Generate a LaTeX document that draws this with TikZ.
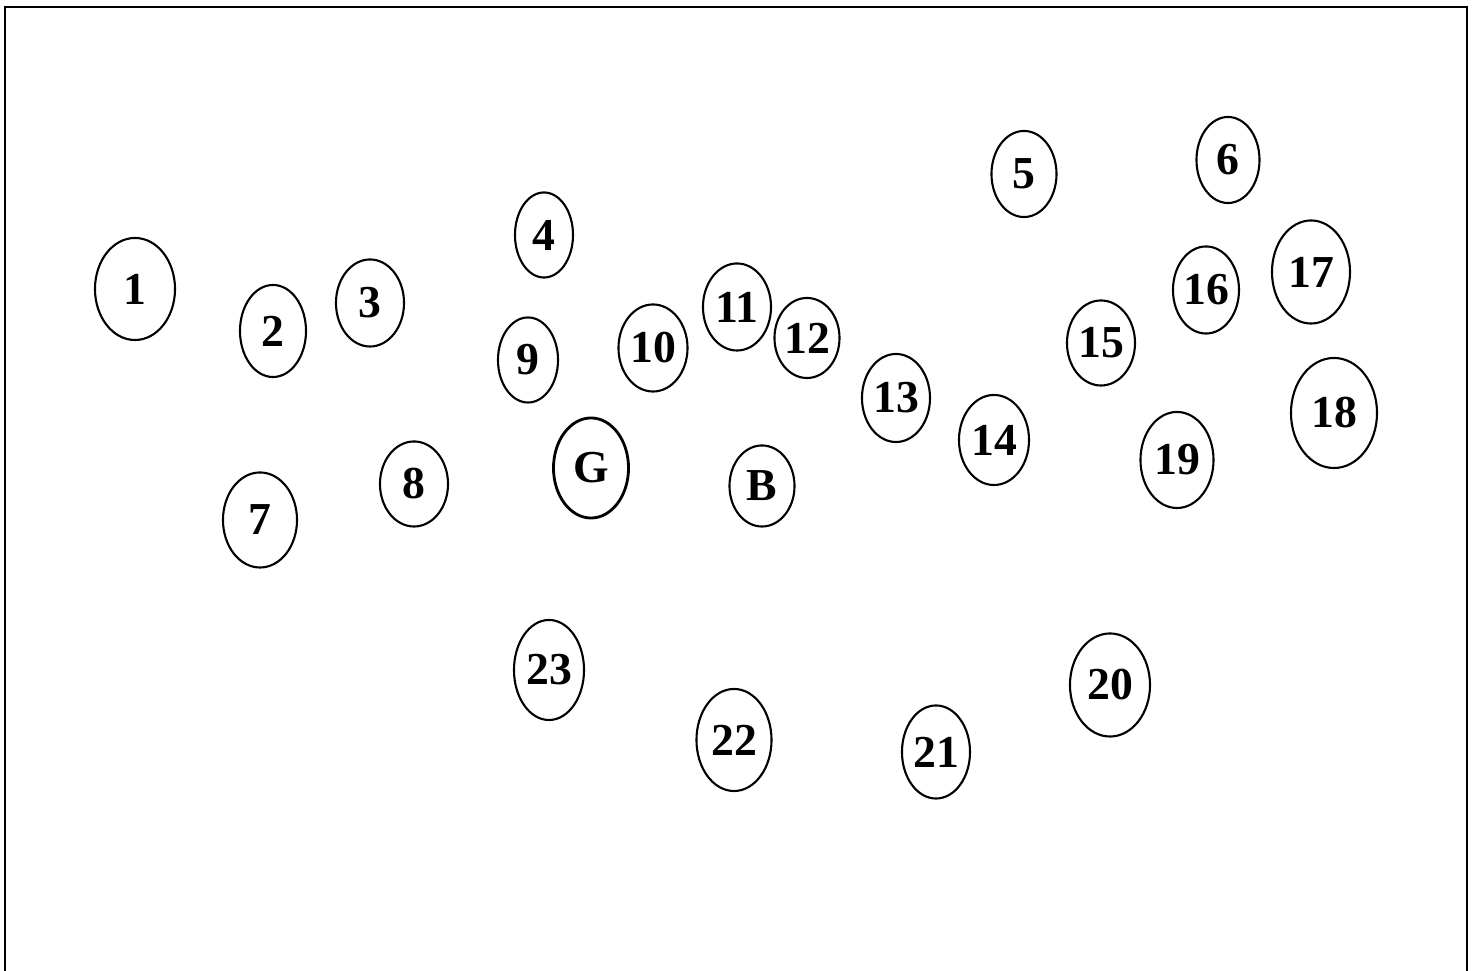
\documentclass[tikz,border=0pt]{standalone}
\usepackage{fontspec}
\setmainfont{Liberation Serif}
\usepackage{tikz}
\usetikzlibrary{shapes.geometric}

\begin{document}
\begin{tikzpicture}[
    x=0.01cm, y=-0.01cm,
    line width=0.6pt,
    spot/.style={ellipse, draw, inner sep=0pt,
      font=\rmfamily\bfseries\fontsize{13}{13}\selectfont}
  ]
    \useasboundingbox (0,0) rectangle (1484,971);
    \draw[line width=0.8pt] (5,971) -- (5,7) -- (1467,7) -- (1467,971);
    % left group
    \node[spot, minimum width=8.0mm, minimum height=10.2mm] (n1) at (135,289) {1};
    \node[spot, minimum width=6.6mm, minimum height=9.2mm] (n2) at (273,331) {2};
    \node[spot, minimum width=6.8mm, minimum height=8.7mm] (n3) at (370,303) {3};
    \node[spot, minimum width=5.8mm, minimum height=8.5mm] (n4) at (544,235) {4};
    \node[spot, minimum width=7.4mm, minimum height=9.5mm] (n7) at (260,520) {7};
    \node[spot, minimum width=6.8mm, minimum height=8.5mm] (n8) at (414,484) {8};
    \node[spot, minimum width=6.0mm, minimum height=8.5mm] (n9) at (528,360) {9};
    \node[spot, line width=0.8pt, minimum width=7.5mm, minimum height=10.0mm] (G) at (591,468) {G};
    % middle group
    \node[spot, minimum width=6.9mm, minimum height=8.7mm] (n10) at (653,348) {10};
    \node[spot, minimum width=6.8mm, minimum height=8.7mm] (n11) at (737,307) {11};
    \node[spot, minimum width=6.5mm, minimum height=8.0mm] (n12) at (807,338) {12};
    \node[spot, minimum width=6.8mm, minimum height=8.8mm] (n13) at (896,398) {13};
    \node[spot, minimum width=7.0mm, minimum height=9.0mm] (n14) at (994,440) {14};
    \node[spot, minimum width=6.5mm, minimum height=8.1mm] (B) at (762,486) {B};
    % right group
    \node[spot, minimum width=6.5mm, minimum height=8.6mm] (n5) at (1024,174) {5};
    \node[spot, minimum width=6.3mm, minimum height=8.6mm] (n6) at (1228,160) {6};
    \node[spot, minimum width=6.8mm, minimum height=8.5mm] (n15) at (1101,343) {15};
    \node[spot, minimum width=6.6mm, minimum height=8.7mm] (n16) at (1206,290) {16};
    \node[spot, minimum width=7.8mm, minimum height=10.3mm] (n17) at (1311,272) {17};
    \node[spot, minimum width=8.6mm, minimum height=11.0mm] (n18) at (1334,413) {18};
    \node[spot, minimum width=7.3mm, minimum height=9.6mm] (n19) at (1177,460) {19};
    % bottom row
    \node[spot, minimum width=8.0mm, minimum height=10.3mm] (n20) at (1110,685) {20};
    \node[spot, minimum width=6.8mm, minimum height=9.3mm] (n21) at (936,752) {21};
    \node[spot, minimum width=7.5mm, minimum height=10.2mm] (n22) at (734,740) {22};
    \node[spot, minimum width=7.0mm, minimum height=10.0mm] (n23) at (549,670) {23};
\end{tikzpicture}
\end{document}
